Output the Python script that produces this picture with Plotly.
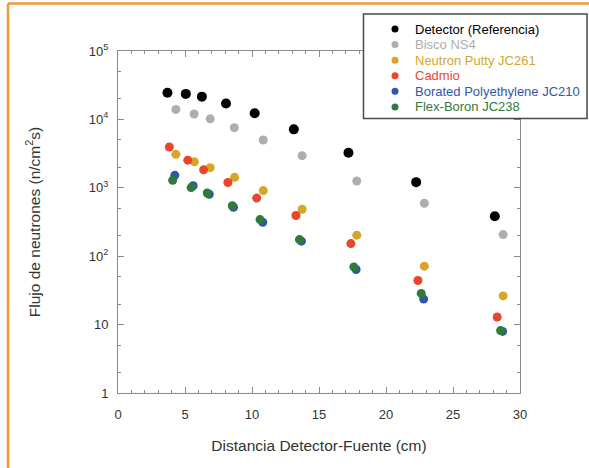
import plotly.graph_objects as go

# Distance detector-source (cm) and neutron flux per series
x_detector = [3.69, 5.06, 6.26, 8.06, 10.2, 13.12, 17.2, 22.25, 28.12]
y_detector = [24500, 23600, 21500, 17100, 12300, 7150, 3250, 1210, 384]

x_bisco = [4.32, 5.68, 6.88, 8.68, 10.84, 13.74, 17.82, 22.86, 28.74]
y_bisco = [14000, 12000, 10200, 7570, 4990, 2950, 1257, 594, 207]

x_putty = [4.32, 5.70, 6.88, 8.70, 10.84, 13.74, 17.82, 22.86, 28.74]
y_putty = [3085, 2397, 1972, 1423, 910, 486, 203, 71.5, 26.3]

x_cadmio = [3.83, 5.21, 6.39, 8.20, 10.35, 13.28, 17.38, 22.38, 28.30]
y_cadmio = [3944, 2538, 1832, 1195, 707, 393, 153, 44.2, 12.9]

x_borated = [4.24, 5.61, 6.81, 8.62, 10.80, 13.69, 17.77, 22.81, 28.70]
y_borated = [1522, 1070, 804, 519, 313, 166, 64, 23.6, 7.96]

x_flex = [4.08, 5.46, 6.66, 8.53, 10.60, 13.54, 17.60, 22.63, 28.55]
y_flex = [1286, 1007, 840, 546, 343, 175, 69.8, 28.6, 8.18]

names = ["Detector (Referencia)", "Bisco NS4", "Neutron Putty JC261",
         "Cadmio", "Borated Polyethylene JC210", "Flex-Boron JC238"]
colors = ["#000000", "#aeaeae", "#d6a62a", "#e8472b", "#2f58a8", "#2f7a3c"]

y_tickvals = [1, 10, 100, 1000, 10000, 100000]
y_ticktext = ["1", "10", "10<sup>2</sup>", "10<sup>3</sup>", "10<sup>4</sup>", "10<sup>5</sup>"]
x_tickvals = [0, 5, 10, 15, 20, 25, 30]

series = [
    (x_detector, y_detector),
    (x_bisco, y_bisco),
    (x_putty, y_putty),
    (x_cadmio, y_cadmio),
    (x_borated, y_borated),
    (x_flex, y_flex),
]

FONT = "Liberation Sans, Arial, sans-serif"

fig = go.Figure()
for i, ((xs, ys), name, col) in enumerate(zip(series, names, colors)):
    fig.add_trace(go.Scatter(
        x=xs, y=ys, mode="markers", name=name, showlegend=False,
        marker=dict(color=col, size=10 if i == 0 else 9, line=dict(width=0)),
    ))

axis_common = dict(
    showline=True, linecolor="#8a8a8a", linewidth=1, mirror="allticks",
    ticks="inside", ticklen=6, tickcolor="#8a8a8a", showgrid=False, zeroline=False,
    tickfont=dict(family=FONT, size=13, color="#333333"),
)

fig.update_xaxes(
    range=[0, 30], tickvals=x_tickvals, ticklabelstandoff=9,
    minor=dict(ticks="inside", ticklen=3, dtick=1, tickcolor="#8a8a8a"),
    title=dict(text="Distancia Detector-Fuente (cm)",
               font=dict(family=FONT, size=15.5, color="#333333"), standoff=19),
    **axis_common,
)
fig.update_yaxes(
    type="log", range=[0, 5], tickvals=y_tickvals, ticktext=y_ticktext,
    ticklabelstandoff=6,
    minor=dict(ticks="inside", ticklen=3, tickcolor="#8a8a8a"),
    title=dict(text="Flujo de neutrones (n/cm<sup>2</sup>s)",
               font=dict(family=FONT, size=15.5, color="#333333"), standoff=44),
    **axis_common,
)

# plot-area geometry (pixels) for paper-coordinate conversion of decorations
L, R, T, B = 118, 520, 50.5, 393
def px(xp):
    return (xp - L) / (R - L)
def py(yp):
    return (B - yp) / (B - T)

shapes = [
    # orange page frame (left and top)
    dict(type="line", xref="paper", yref="paper", x0=px(8), x1=px(8), y0=py(3), y1=py(470),
         line=dict(color="#ec9a3c", width=2.5)),
    dict(type="line", xref="paper", yref="paper", x0=px(8), x1=px(592), y0=py(3), y1=py(3),
         line=dict(color="#ec9a3c", width=2.5)),
    # legend box
    dict(type="rect", xref="paper", yref="paper", x0=px(363.5), x1=px(587), y0=py(13.5), y1=py(118),
         line=dict(color="#4a4a4a", width=1.5), fillcolor="white", layer="above"),
]
annotations = []
row0, row_step = 28.5, 15.6
for i, (name, col) in enumerate(zip(names, colors)):
    yrow = py(row0 + i * row_step)
    shapes.append(dict(
        type="circle", xref="paper", yref="paper", xsizemode="pixel", ysizemode="pixel",
        xanchor=px(395), yanchor=yrow, x0=-3.5, x1=3.5, y0=-3.5, y1=3.5,
        fillcolor=col, line=dict(width=0), layer="above",
    ))
    annotations.append(dict(
        xref="paper", yref="paper", x=px(413), y=yrow, xanchor="left", yanchor="middle",
        text=name, showarrow=False, font=dict(family=FONT, size=13, color=col),
    ))

fig.update_layout(
    width=589, height=468,
    margin=dict(l=L, r=589 - R, t=T, b=468 - B),
    paper_bgcolor="white", plot_bgcolor="white",
    showlegend=False,
    shapes=shapes,
    annotations=annotations,
)

fig.write_html("out.html", config={"displayModeBar": False},
               post_script="document.body.style.margin='0px';")
